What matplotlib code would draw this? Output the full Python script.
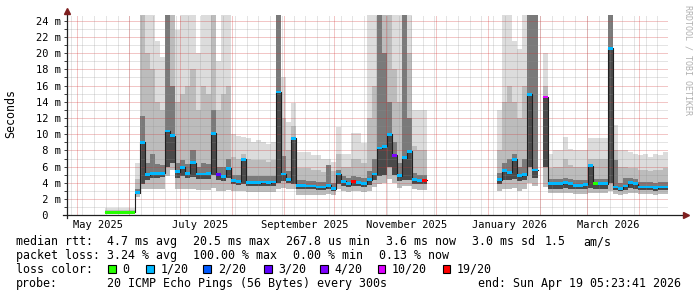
import numpy as np
import pandas as pd
import matplotlib
matplotlib.use('Agg')
import matplotlib.pyplot as plt
from matplotlib.patches import Rectangle

nan = np.nan
T = 25.0  # smoke that runs off the top of the graph

# one slot every 3 days
slot_start = pd.date_range('2025-05-17 12:00', periods=112, freq='3D')

# median rtt per slot (ms)
rtt_med = [
    0.35, 0.35, 0.35, 0.35, 0.35, 0.35,
    2.8, 9.0, 5.0, 5.2, 5.2, 5.2, 10.4, 9.8,
    5.4, 5.9, 5.2, 6.5, 5.1, 5.1, 5.2, 10.1,
    5.0, 4.8, 5.8, 4.3, 4.2, 6.9, 4.0, 4.0,
    4.0, 4.1, 4.0, 4.1, 15.2, 5.1, 4.4, 9.5,
    3.7, 3.7, 3.6, 3.6, 3.5, 3.5, 3.7, 3.3,
    5.1, 4.2, 3.9, 4.2, 4.0, 3.9, 4.4, 5.1,
    8.3, 8.5, 10.0, 7.4, 4.9, 7.1, 7.9, 4.4,
    4.3, 4.3, nan, nan, nan, nan, nan, nan,
    nan, nan, nan, nan, nan, nan, nan, nan,
    4.4, 5.5, 5.3, 6.9, 4.9, 5.0, 14.9, 5.6,
    nan, 14.6, 3.9, 3.9, 3.9, 4.0, 3.9, 3.7,
    3.7, 3.8, 6.1, 3.9, 3.9, 3.9, 20.6, 3.5,
    3.3, 3.6, 4.0, 3.9, 3.5, 3.5, 3.5, 3.4, 3.5, 3.5,
]

# loss level per slot (index into loss_colors)
loss_lvl = [
    0, 0, 0, 0, 0, 0,
    1, 1, 1, 1, 1, 1, 1, 1,
    1, 1, 1, 1, 1, 1, 1, 1,
    3, 1, 1, 1, 1, 1, 1, 1,
    1, 1, 1, 1, 1, 1, 1, 1,
    1, 1, 1, 1, 1, 1, 1, 1,
    1, 1, 1, 6, 1, 1, 1, 1,
    1, 1, 1, 4, 1, 1, 1, 1,
    1, 6, 1, 1, 1, 1, 1, 1,
    1, 1, 1, 1, 1, 1, 1, 1,
    1, 1, 1, 1, 1, 1, 1, 1,
    1, 5, 1, 1, 1, 1, 1, 1,
    1, 1, 1, 0, 1, 1, 1, 1,
    1, 1, 1, 1, 1, 1, 1, 1, 1, 1,
]

# smoke: lowest ping
ping_min = [
    0.2, 0.2, 0.2, 0.2, 0.2, 0.2,
    2.3, 3.2, 3.2, 3.2, 3.2, 3.3, 4.8, 5.6,
    3.2, 3.3, 3.2, 3.3, 3.1, 3.1, 3.1, 3.4,
    3.0, 3.0, 3.1, 3.0, 3.0, 3.0, 2.9, 2.9,
    2.9, 2.9, 2.9, 2.9, 3.2, 3.4, 3.3, 3.3,
    2.5, 2.5, 2.5, 2.5, 2.5, 2.5, 2.6, 2.5,
    3.2, 3.0, 2.9, 3.0, 3.0, 2.9, 3.0, 3.5,
    3.8, 4.0, 4.5, 4.0, 3.4, 3.6, 3.6, 3.2,
    3.1, 3.1, nan, nan, nan, nan, nan, nan,
    nan, nan, nan, nan, nan, nan, nan, nan,
    3.0, 3.2, 3.2, 3.4, 3.0, 3.2, 4.0, 3.6,
    nan, 3.5, 2.7, 2.7, 2.7, 2.8, 2.7, 2.6,
    2.6, 2.6, 2.8, 2.7, 2.7, 2.7, 3.0, 2.6,
    2.5, 2.6, 2.7, 2.7, 2.6, 2.6, 2.6, 2.5, 2.6, 2.6,
]

# smoke: bottom of the dark core
ping_lo = [
    0.3, 0.3, 0.3, 0.3, 0.3, 0.3,
    2.6, 3.8, 4.4, 4.6, 4.6, 4.7, 6.0, 6.5,
    4.6, 4.8, 4.6, 4.7, 4.5, 4.5, 4.5, 5.0,
    4.3, 4.2, 4.6, 3.8, 3.7, 3.8, 3.6, 3.6,
    3.6, 3.6, 3.6, 3.6, 4.0, 4.2, 4.0, 3.9,
    3.3, 3.3, 3.2, 3.2, 3.1, 3.1, 3.3, 3.0,
    3.8, 3.6, 3.5, 3.6, 3.6, 3.5, 3.7, 4.3,
    4.8, 5.0, 6.0, 5.0, 4.2, 4.4, 4.3, 3.9,
    3.8, 3.8, nan, nan, nan, nan, nan, nan,
    nan, nan, nan, nan, nan, nan, nan, nan,
    3.8, 4.3, 4.3, 4.5, 4.2, 4.3, 6.0, 4.6,
    nan, 6.0, 3.3, 3.3, 3.3, 3.4, 3.3, 3.2,
    3.2, 3.3, 3.4, 3.3, 3.3, 3.3, 4.0, 3.1,
    3.0, 3.1, 3.4, 3.3, 3.1, 3.1, 3.1, 3.0, 3.1, 3.1,
]

# smoke: top of the dark core
ping_hi = [
    0.45, 0.45, 0.45, 0.45, 0.45, 0.45,
    3.3, 12.2, 6.5, 7.5, 6.3, 6.2, T, 16.0,
    6.4, 6.8, 6.3, 8.0, 6.0, 6.5, 6.3, 13.0,
    6.0, 6.0, 7.0, 5.0, 5.0, 7.0, 4.8, 4.8,
    4.8, 4.9, 4.8, 4.9, T, 7.3, 5.5, 9.5,
    4.3, 4.3, 4.2, 4.2, 4.1, 4.1, 6.2, 4.0,
    5.6, 4.8, 4.6, 4.8, 4.7, 4.6, 5.5, 7.0,
    T, 20.0, 14.0, 9.0, 6.5, T, 12.0, 5.2,
    5.0, 5.0, nan, nan, nan, nan, nan, nan,
    nan, nan, nan, nan, nan, nan, nan, nan,
    5.2, 6.5, 7.0, 7.5, 6.0, 7.0, T, T,
    nan, 14.6, 4.5, 4.5, 4.5, 4.6, 4.5, 4.3,
    4.3, 4.4, 6.1, 4.5, 4.5, 4.5, T, 6.8,
    4.0, 4.6, 4.6, 4.5, 4.1, 4.1, 4.1, 4.0, 4.1, 4.1,
]

# smoke: top of the mid grey
ping_up = [
    0.6, 0.6, 0.6, 0.6, 0.6, 0.6,
    4.5, T, 20.0, 18.0, 14.0, 13.0, T, T,
    14.0, 15.0, 16.0, 18.0, 13.0, 16.0, 15.0, T,
    13.0, 15.0, 16.0, 7.2, 7.0, 7.5, 7.0, 6.8,
    6.8, 6.8, 6.6, 6.8, T, 12.0, 8.0, 11.0,
    5.8, 5.8, 5.8, 5.6, 5.6, 5.4, 6.2, 5.5,
    7.5, 6.0, 6.0, 7.0, 7.0, 6.5, 12.0, 16.0,
    T, T, T, 18.0, 14.0, T, 20.0, 8.5,
    8.0, 8.0, nan, nan, nan, nan, nan, nan,
    nan, nan, nan, nan, nan, nan, nan, nan,
    8.0, 14.0, 16.0, 14.0, 12.0, 16.0, T, T,
    nan, 16.0, 5.8, 6.0, 6.0, 7.0, 6.2, 6.0,
    6.0, 6.0, 7.0, 7.0, 7.0, 7.0, T, 8.0,
    6.0, 6.0, 5.8, 5.8, 5.6, 5.6, 5.5, 5.6, 5.6, 5.8,
]

# smoke: highest ping
ping_max = [
    0.85, 0.85, 0.85, 0.85, 0.85, 0.85,
    6.5, T, T, T, 21.5, 19.5, T, T,
    22.8, T, T, T, 20.0, T, T, T,
    19.0, T, T, 10.0, 9.8, 9.7, 9.5, 9.0,
    9.3, 9.0, 8.8, 9.0, T, 17.0, 11.5, 13.8,
    7.8, 7.8, 7.8, 7.4, 7.4, 7.0, 7.0, 6.6,
    10.9, 7.5, 7.6, 10.1, 10.1, 8.9, T, T,
    T, T, T, T, T, T, T, 13.0,
    13.0, 13.0, nan, nan, nan, nan, nan, nan,
    nan, nan, nan, nan, nan, nan, nan, nan,
    13.0, T, T, 21.5, 20.5, T, T, T,
    nan, 20.0, 7.6, 8.0, 8.0, 9.7, 8.2, 8.0,
    8.0, 8.0, 9.5, 9.5, 9.5, 9.5, T, 11.1,
    8.0, 8.0, 7.8, 7.6, 7.4, 7.6, 7.2, 7.6, 7.4, 7.8,
]

loss_colors = ['#26ff00', '#00b8ff', '#0059ff', '#5e00ff', '#7e00ff', '#dd00ff', '#ff0000']
loss_labels = ['0', '1/20', '2/20', '3/20', '4/20', '10/20', '19/20']

y_ticks = [0, 2, 4, 6, 8, 10, 12, 14, 16, 18, 20, 22, 24]
y_tick_labels = [' 0', ' 2 m', ' 4 m', ' 6 m', ' 8 m', '10 m', '12 m', '14 m',
                 '16 m', '18 m', '20 m', '22 m', '24 m']
month_label_dates = pd.to_datetime(['2025-05-13 12:00', '2025-07-13 12:00', '2025-09-13 12:00',
                                    '2025-11-13 12:00', '2026-01-13 12:00', '2026-03-13 12:00'])
month_labels = ['May 2025', 'July 2025', 'September 2025', 'November 2025',
                'January 2026', 'March 2026']

plt.rcParams['font.family'] = 'DejaVu Sans Mono'

W, H = 697, 297
fig = plt.figure(figsize=(W / 100, H / 100), dpi=100, facecolor='white')
ax = fig.add_axes([67 / W, (H - 215.3) / H, 600.5 / W, 200 / H])
ax.set_xlim(pd.Timestamp('2025-04-24 20:00'), pd.Timestamp('2026-04-18 01:00'))
ax.set_ylim(0, 24.66)
for s in ax.spines.values():
    s.set_visible(False)

# step edges of each slot
left = slot_start.values
right = (slot_start + pd.Timedelta(days=3)).values
xs = np.column_stack([left, right]).ravel()


def steps(v):
    return np.repeat(np.asarray(v, dtype=float), 2)


med = np.asarray(rtt_med, dtype=float)

# smoke, light outside and darker towards the median
ax.fill_between(xs, steps(ping_min), steps(ping_max), color='#dcdcdc', lw=0, zorder=1)
ax.fill_between(xs, steps(ping_min), steps(ping_up), color='#bcbcbc', lw=0, zorder=1)
ax.fill_between(xs, steps(ping_lo), steps(ping_hi), color='#7a7a7a', lw=0, zorder=1)
ax.fill_between(xs, steps(ping_lo), steps(med), color='#4a4a4a', lw=0, zorder=1)

# grid drawn over the smoke
minor_col, major_col = '#8c8c8c', '#d03030'
for y in range(1, 25):
    major = y % 2 == 0
    ax.axhline(y, color=major_col if major else minor_col, alpha=0.55 if major else 0.45,
               lw=0.72, ls=(0, (1, 1)), zorder=2)
for d in pd.date_range('2025-04-27', '2026-04-12', freq='7D'):
    ax.axvline(d, color=minor_col, alpha=0.45, lw=0.72, ls=(0, (1, 1)), zorder=2)
for d in pd.date_range('2025-05-01', '2026-04-01', freq='MS'):
    ax.axvline(d, color=major_col, alpha=0.55, lw=0.72, ls=(0, (1, 1)), zorder=2)

# median line and loss-coloured median bars
ax.plot(xs, steps(med), color='#202020', lw=0.8, zorder=3)
lvl = np.asarray(loss_lvl)
for i, col in enumerate(loss_colors):
    m = np.where(lvl == i, med, nan)
    ax.fill_between(xs, steps(m - 0.17), steps(m + 0.17), color=col, lw=0, zorder=4)

# axes with arrows
ax.plot([-0.0067, 1.0258], [0, 0], color='#202020', lw=0.9, transform=ax.transAxes,
        clip_on=False, zorder=5)
ax.plot([0, 0], [-0.015, 1.015], color='#202020', lw=0.9, transform=ax.transAxes,
        clip_on=False, zorder=5)
ax.plot([1.030], [0], marker='>', ms=4.5, color='#7f1f1f', transform=ax.transAxes,
        clip_on=False, zorder=5)
ax.plot([0], [1.024], marker='^', ms=4.5, color='#7f1f1f', transform=ax.transAxes,
        clip_on=False, zorder=5)

# ticks
ax.set_yticks(y_ticks, labels=y_tick_labels)
ax.set_yticks(np.arange(1, 25, 2), minor=True)
ax.tick_params(axis='y', which='both', length=2.2, width=0.7, color='#404040',
               pad=20.1, labelsize=7.5)
for lab in ax.get_yticklabels():
    lab.set_ha('left')
ax.set_xticks(month_label_dates, labels=month_labels)
ax.tick_params(axis='x', length=0, pad=8.9, labelsize=7.5)
for lab in ax.get_xticklabels():
    lab.set_va('baseline')

fig.text(11 / W, 1 - 114 / H, 'Seconds', rotation=90, ha='center', va='center', fontsize=8.4)
fig.text(688 / W, 1 - 5 / H, 'RRDTOOL / TOBI OETIKER', rotation=270, ha='center', va='top',
         fontsize=6.0, color='#b0b0b0')

# legend block
rows = {
    245.3: [(16, 'median rtt:'), (107.3, '4.7 ms avg'), (193.3, '20.5 ms max'),
            (286, '267.8 us min'), (386, '3.6 ms now'), (472, '3.0 ms sd'),
            (545, '1.5'), (583.3, 'am/s')],
    258.7: [(16, 'packet loss:'), (107.3, '3.24 % avg'), (193.3, '100.00 % max'),
            (293.3, '0.00 % min'), (379.3, '0.13 % now')],
    273.0: [(16, 'loss color:')],
    287.0: [(16, 'probe:'), (107.3, '20 ICMP Echo Pings (56 Bytes) every 300s'),
            (478.5, 'end: Sun Apr 19 05:23:41 2026')],
}
for yb, items in rows.items():
    for x, s in items:
        fig.text(x / W, 1 - yb / H, s, ha='left', va='baseline', fontsize=8.4)

box_x = [108.3, 146, 203.3, 264, 320, 377.7, 442.7]
for bx, col, lab in zip(box_x, loss_colors, loss_labels):
    fig.patches.append(Rectangle((bx / W, 1 - 273 / H), 7.7 / W, 7.7 / H,
                                 transform=fig.transFigure, facecolor=col,
                                 edgecolor='black', lw=0.8))
    fig.text((bx + 14.4) / W, 1 - 273 / H, lab, ha='left', va='baseline', fontsize=8.4)

fig.savefig('out.png', dpi=100, facecolor='white')
